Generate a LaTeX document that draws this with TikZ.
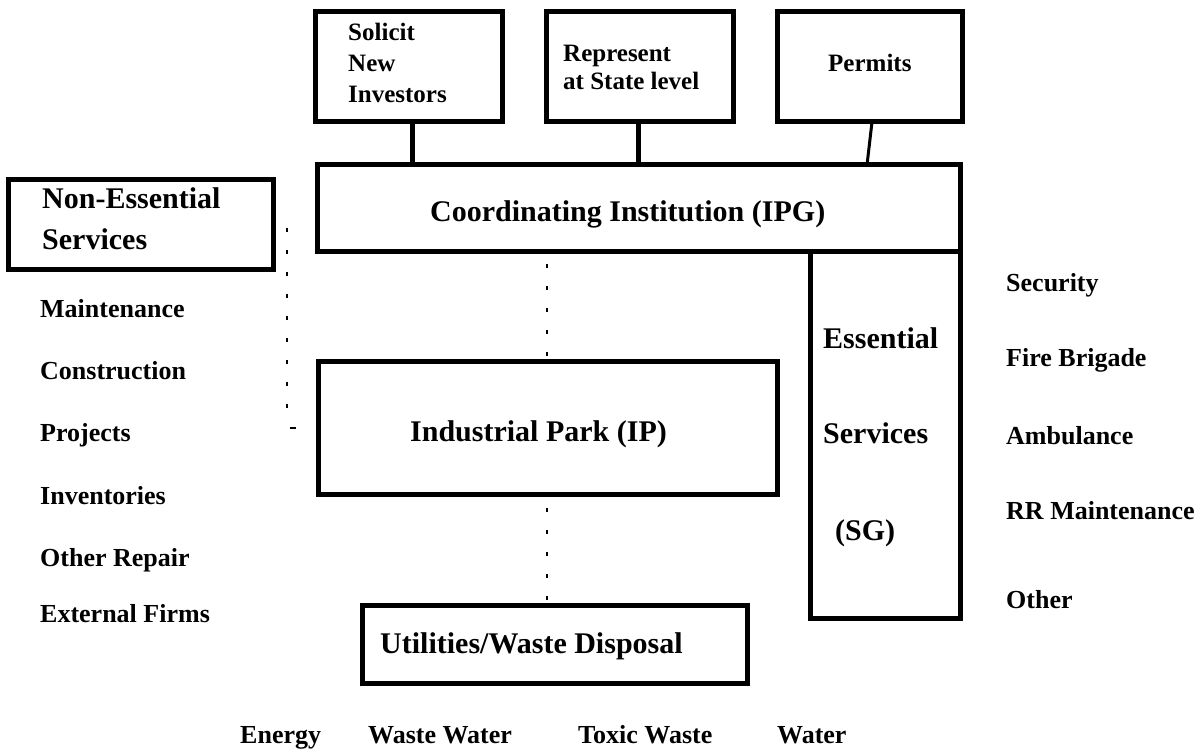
\documentclass[tikz,border=0pt]{standalone}
\usepackage{fontspec}
\setmainfont{Liberation Serif}
\tikzset{
  box/.style={draw, line width=5pt, inner sep=0pt, outer sep=0pt},
  big/.style={font=\fontsize{30}{36}\selectfont\bfseries, anchor=base west, inner sep=0pt},
  lab/.style={font=\fontsize{26}{30}\selectfont\bfseries, anchor=base west, inner sep=0pt},
  toptxt/.style={font=\fontsize{25}{30}\selectfont\bfseries, anchor=base west, inner sep=0pt},
  conn/.style={line width=5pt},
  dots/.style={line width=1.8pt, dash pattern=on 4pt off 18pt}
}
\begin{document}
\begin{tikzpicture}[x=1pt,y=-1pt]
\useasboundingbox (0,0) rectangle (1195,751);
% boxes
\node[box, minimum width=187pt, minimum height=110pt] (sol) at (408.5,67) {};
\node[box, minimum width=187pt, minimum height=110pt] (rep) at (639.5,67) {};
\node[box, minimum width=185pt, minimum height=110pt] (per) at (869.5,67) {};
\node[box, minimum width=643pt, minimum height=87pt] (ipg) at (638.5,208.5) {};
\node[box, minimum width=265pt, minimum height=90pt] (nes) at (140.5,225) {};
\node[box, minimum width=150pt, minimum height=366pt] (es) at (885,435) {};
\node[box, minimum width=459pt, minimum height=132pt] (ip) at (547.5,428) {};
\node[box, minimum width=385pt, minimum height=78pt] (ut) at (554.5,644) {};
% texts in top boxes
\node[toptxt] (t1) at (348,41) {Solicit};
\node[toptxt] (t2) at (348,72) {New};
\node[toptxt] (t3) at (348,103) {Investors};
\node[toptxt] (t4) at (563,62) {Represent};
\node[toptxt] (t5) at (563,90) {at State level};
\node[toptxt] (t6) at (828,72) {Permits};
% big texts
\node[big] (tipg) at (430,222) {Coordinating Institution (IPG)};
\node[big] (tnes1) at (42,209) {Non-Essential};
\node[big] (tnes2) at (42,250) {Services};
\node[big] (tes1) at (823,349) {Essential};
\node[big] (tes2) at (823,443) {Services};
\node[big] (tes3) at (835,540) {(SG)};
\node[big] (tip) at (410,442) {Industrial Park (IP)};
\node[big] (tut) at (380,653) {Utilities/Waste Disposal};
% left labels
\node[lab] (l1) at (40,318) {Maintenance};
\node[lab] (l2) at (40,380) {Construction};
\node[lab] (l3) at (40,442) {Projects};
\node[lab] (l4) at (40,504) {Inventories};
\node[lab] (l5) at (40,566) {Other Repair};
\node[lab] (l6) at (40,622) {External Firms};
% right labels
\node[lab] (r1) at (1006,292) {Security};
\node[lab] (r2) at (1006,367) {Fire Brigade};
\node[lab] (r3) at (1006,444) {Ambulance};
\node[lab] (r4) at (1006,519) {RR Maintenance};
\node[lab] (r5) at (1006,608) {Other};
% bottom labels
\node[lab] (b1) at (240,743) {Energy};
\node[lab] (b2) at (368,743) {Waste Water};
\node[lab] (b3) at (578,743) {Toxic Waste};
\node[lab] (b4) at (777,743) {Water};
% connectors
\coordinate (c1) at (412,0);
\coordinate (c2) at (638,0);
\coordinate (c3) at (872,0);
\coordinate (c4) at (867,0);
\coordinate (cd) at (547,0);
\draw[conn] (sol.south -| c1) -- (ipg.north -| c1);
\draw[conn] (rep.south -| c2) -- (ipg.north -| c2);
\draw[line width=3pt] (per.south -| c3) -- (ipg.north -| c4);
\draw[dots] ([yshift=-12pt]ipg.south -| cd) -- (ip.north -| cd);
\draw[dots] ([yshift=-14pt]ip.south -| cd) -- (ut.north -| cd);
\coordinate (d1) at (287,228);
\coordinate (d2) at (287,422);
\coordinate (d3) at (290,428);
\coordinate (d4) at (296,428);
\draw[dots] (d1) -- (d2);
\draw[line width=1.5pt] (d3) -- (d4);
\end{tikzpicture}
\end{document}
